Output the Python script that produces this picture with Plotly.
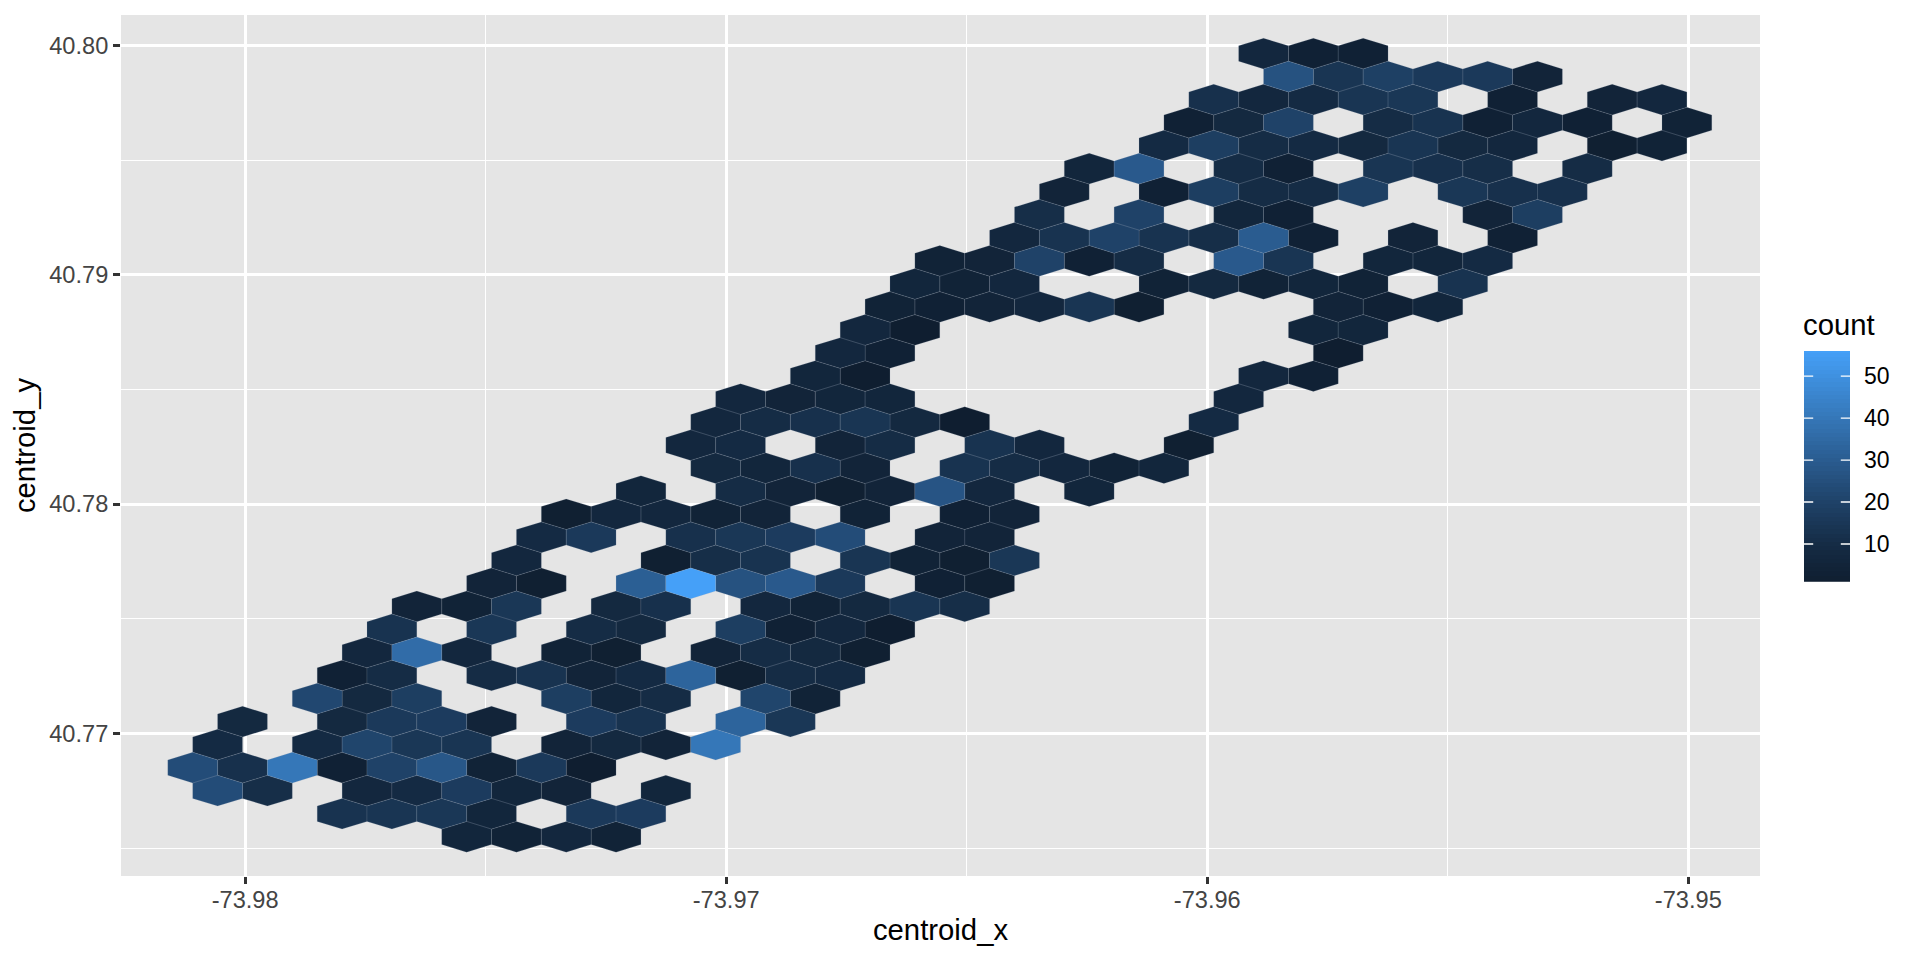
"""Hexbin of centroid_x / centroid_y, drawn as filled hexagons on a regular grid."""

from plotly.colors import sample_colorscale
import plotly.graph_objects as go

# Grid index of each occupied hexagon, row by row from the top, and its count
HEX_COLUMNS = [
    [0, 2, 4],
    [1, 3, 5, 7, 9, 11],
    [-2, 0, 2, 4, 6, 10, 14, 16],
    [-3, -1, 1, 5, 7, 9, 11, 13, 17],
    [-4, -2, 0, 2, 4, 6, 8, 10, 14, 16],
    [-7, -5, -1, 1, 5, 7, 9, 13],
    [-8, -4, -2, 0, 2, 4, 8, 10, 12],
    [-9, -5, -1, 1, 9, 11],
    [-10, -8, -6, -4, -2, 0, 2, 6, 10],
    [-13, -11, -9, -7, -5, -1, 1, 5, 7, 9],
    [-14, -12, -10, -4, -2, 0, 2, 4, 8],
    [-15, -13, -11, -9, -7, -5, 3, 5, 7],
    [-16, -14, 2, 4],
    [-17, -15, 3],
    [-18, -16, 0, 2],
    [-21, -19, -17, -15, -1],
    [-22, -20, -18, -16, -14, -12, -2],
    [-23, -21, -17, -15, -11, -9, -3],
    [-22, -20, -18, -16, -12, -10, -8, -6, -4],
    [-25, -21, -19, -17, -15, -13, -11, -7],
    [-28, -26, -24, -22, -20, -16, -12, -10],
    [-29, -27, -23, -21, -19, -17, -13, -11],
    [-30, -24, -22, -20, -16, -14, -12, -10],
    [-31, -29, -25, -23, -21, -19, -17, -13, -11],
    [-34, -32, -30, -26, -24, -20, -18, -16, -14, -12],
    [-35, -31, -27, -25, -21, -19, -17, -15],
    [-36, -34, -32, -28, -26, -22, -20, -18, -16],
    [-37, -35, -31, -29, -27, -25, -23, -21, -19, -17],
    [-38, -36, -34, -28, -26, -24, -20, -18],
    [-41, -37, -35, -33, -31, -27, -25, -21, -19],
    [-42, -38, -36, -34, -32, -28, -26, -24, -22],
    [-43, -41, -39, -37, -35, -33, -31, -29, -27],
    [-42, -40, -36, -34, -32, -30, -28, -24],
    [-37, -35, -33, -31, -27, -25],
    [-32, -30, -28, -26],
]
HEX_COUNTS = [
    [7, 3, 3],
    [26, 14, 19, 16, 16, 5],
    [12, 7, 9, 14, 15, 3, 5, 7],
    [3, 8, 20, 10, 13, 3, 7, 3, 4],
    [9, 18, 10, 9, 8, 14, 8, 7, 2, 4],
    [6, 29, 10, 3, 14, 12, 11, 10],
    [5, 3, 18, 10, 10, 19, 15, 12, 12],
    [11, 20, 6, 3, 5, 18],
    [7, 13, 20, 13, 11, 30, 3, 5, 3],
    [4, 5, 20, 3, 10, 29, 14, 6, 6, 9],
    [6, 4, 7, 4, 8, 4, 6, 4, 13],
    [4, 3, 5, 7, 14, 2, 5, 3, 6],
    [7, 1, 6, 6],
    [7, 3, 1],
    [6, 1, 7, 3],
    [7, 5, 6, 6, 7],
    [7, 10, 12, 14, 8, 1, 9],
    [7, 9, 5, 10, 13, 7, 2],
    [8, 6, 12, 5, 13, 10, 7, 4, 6],
    [6, 10, 5, 2, 5, 27, 7, 6],
    [2, 7, 7, 4, 5, 4, 3, 5],
    [9, 16, 12, 15, 17, 24, 5, 5],
    [7, 2, 11, 13, 14, 4, 2, 15],
    [5, 2, 31, 56, 26, 29, 16, 3, 2],
    [5, 4, 15, 8, 12, 7, 4, 8, 14, 11],
    [13, 15, 10, 8, 18, 3, 7, 1],
    [7, 36, 7, 4, 2, 5, 10, 8, 2],
    [3, 10, 10, 13, 5, 9, 33, 2, 10, 9],
    [22, 8, 18, 18, 6, 10, 21, 4],
    [8, 8, 16, 17, 5, 17, 13, 33, 15],
    [9, 9, 21, 15, 14, 5, 8, 5, 40],
    [24, 12, 40, 3, 20, 28, 4, 16, 1],
    [24, 11, 7, 9, 17, 6, 5, 6],
    [13, 14, 15, 6, 16, 17],
    [6, 4, 7, 4],
]

X_TICKS = [-73.98, -73.97, -73.96, -73.95]
X_TICK_LABELS = ["-73.98", "-73.97", "-73.96", "-73.95"]
Y_TICKS = [40.77, 40.78, 40.79, 40.80]
Y_TICK_LABELS = ["40.77", "40.78", "40.79", "40.80"]
LEGEND_TICKS = [10, 20, 30, 40, 50]
COUNT_MIN = 1
COUNT_MAX = 56

# hexbin grid: centre of row 0 / column 0 and spacing in data units
GRID_X0 = -73.95883
GRID_Y0 = 40.79965
HALF_WIDTH = 0.00051767
ROW_STEP = 0.0010044

COLORSCALE = [
    [0.0, "#0f1e30"],
    [9 / 55, "#152c45"],
    [19 / 55, "#1f4268"],
    [29 / 55, "#2a5c90"],
    [39 / 55, "#3577b8"],
    [1.0, "#45a0f8"],
]

PANEL = "#e5e5e5"
TICK_TEXT = "#444444"
FONT = "Liberation Sans"

# plot area is 1799 px wide (left margin 121, no right margin)
MAIN_DOMAIN = [0, 1639 / 1799]
LEGEND_X_DOMAIN = [1683 / 1799, 1729 / 1799]
LEGEND_Y_DOMAIN = [294.3 / 861, 525 / 861]


def hex_outline(col, row):
    cx = GRID_X0 + col * HALF_WIDTH
    cy = GRID_Y0 - row * ROW_STEP
    xs = [cx, cx + HALF_WIDTH, cx + HALF_WIDTH, cx, cx - HALF_WIDTH, cx - HALF_WIDTH, cx, None]
    top, side = 2 * ROW_STEP / 3, ROW_STEP / 3
    ys = [cy + top, cy + side, cy - side, cy - top, cy - side, cy + side, cy + top, None]
    return xs, ys


# one trace per distinct count, so each colour is one scatter with several polygons
outlines = {}
for row, (cols, counts) in enumerate(zip(HEX_COLUMNS, HEX_COUNTS)):
    for col, count in zip(cols, counts):
        xs, ys = hex_outline(col, row)
        entry = outlines.setdefault(count, ([], []))
        entry[0].extend(xs)
        entry[1].extend(ys)

fig = go.Figure()
for count in sorted(outlines):
    t = (count - COUNT_MIN) / (COUNT_MAX - COUNT_MIN)
    color = sample_colorscale(COLORSCALE, [t], colortype="rgb")[0]
    fig.add_trace(
        go.Scatter(
            x=outlines[count][0],
            y=outlines[count][1],
            mode="lines",
            fill="toself",
            fillcolor=color,
            line=dict(color="rgba(150,165,180,0.35)", width=0.5),
            name=str(count),
            hoverinfo="name",
            showlegend=False,
        )
    )

# colour legend: a one-column heatmap on its own axes
levels = list(range(COUNT_MIN, COUNT_MAX + 1))
fig.add_trace(
    go.Heatmap(
        x=[0],
        y=levels,
        z=[[v] for v in levels],
        colorscale=COLORSCALE,
        zmin=COUNT_MIN,
        zmax=COUNT_MAX,
        showscale=False,
        hoverinfo="skip",
        xaxis="x2",
        yaxis="y2",
    )
)

# white tick marks on both edges of the legend bar
tick_x, tick_y = [], []
for value in LEGEND_TICKS:
    tick_x += [-0.5, -0.3, None, 0.3, 0.5, None]
    tick_y += [value, value, None, value, value, None]
fig.add_trace(
    go.Scatter(
        x=tick_x,
        y=tick_y,
        mode="lines",
        line=dict(color="white", width=1.35),
        hoverinfo="skip",
        showlegend=False,
        xaxis="x2",
        yaxis="y2",
    )
)

fig.update_layout(
    width=1920,
    height=960,
    margin=dict(l=121, r=0, t=15, b=84),
    paper_bgcolor="white",
    plot_bgcolor=PANEL,
    font=dict(family=FONT, color="black", size=23),
    showlegend=False,
    xaxis=dict(
        domain=MAIN_DOMAIN,
        range=[-73.98258, -73.94851],
        tickvals=X_TICKS,
        ticktext=X_TICK_LABELS,
        tickfont=dict(color=TICK_TEXT, size=23.6),
        ticks="outside",
        ticklen=7,
        tickwidth=2.7,
        tickcolor="#333333",
        ticklabelstandoff=-4,
        showgrid=True,
        gridcolor="white",
        gridwidth=2.7,
        zeroline=False,
        minor=dict(tick0=-73.98, dtick=0.005, showgrid=True, gridcolor="white", gridwidth=1.35, ticks=""),
        title=dict(text="centroid_x", font=dict(size=29.3), standoff=7),
    ),
    yaxis=dict(
        range=[40.76379, 40.80133],
        tickvals=Y_TICKS,
        ticktext=Y_TICK_LABELS,
        tickfont=dict(color=TICK_TEXT, size=23.6),
        ticks="outside",
        ticklen=7,
        tickwidth=2.7,
        tickcolor="#333333",
        showgrid=True,
        gridcolor="white",
        gridwidth=2.7,
        zeroline=False,
        minor=dict(tick0=40.77, dtick=0.005, showgrid=True, gridcolor="white", gridwidth=1.35, ticks=""),
        title=dict(text="centroid_y", font=dict(size=29.3), standoff=4),
    ),
    xaxis2=dict(domain=LEGEND_X_DOMAIN, anchor="y2", range=[-0.5, 0.5], visible=False, fixedrange=True),
    yaxis2=dict(
        domain=LEGEND_Y_DOMAIN,
        anchor="x2",
        side="right",
        range=[COUNT_MIN, COUNT_MAX],
        tickvals=LEGEND_TICKS,
        ticks="",
        ticklabelstandoff=13,
        showline=False,
        showgrid=False,
        zeroline=False,
        tickfont=dict(color="black", size=23),
        fixedrange=True,
    ),
    annotations=[
        dict(
            text="count",
            xref="x2 domain",
            yref="y2 domain",
            x=0,
            y=1,
            xanchor="left",
            yanchor="bottom",
            xshift=-3,
            yshift=8,
            showarrow=False,
            font=dict(size=29.3, color="black"),
        )
    ],
)

fig.write_html(
    "out.html",
    config=dict(displayModeBar=False),
    post_script="document.body.style.margin = '0';",
)
